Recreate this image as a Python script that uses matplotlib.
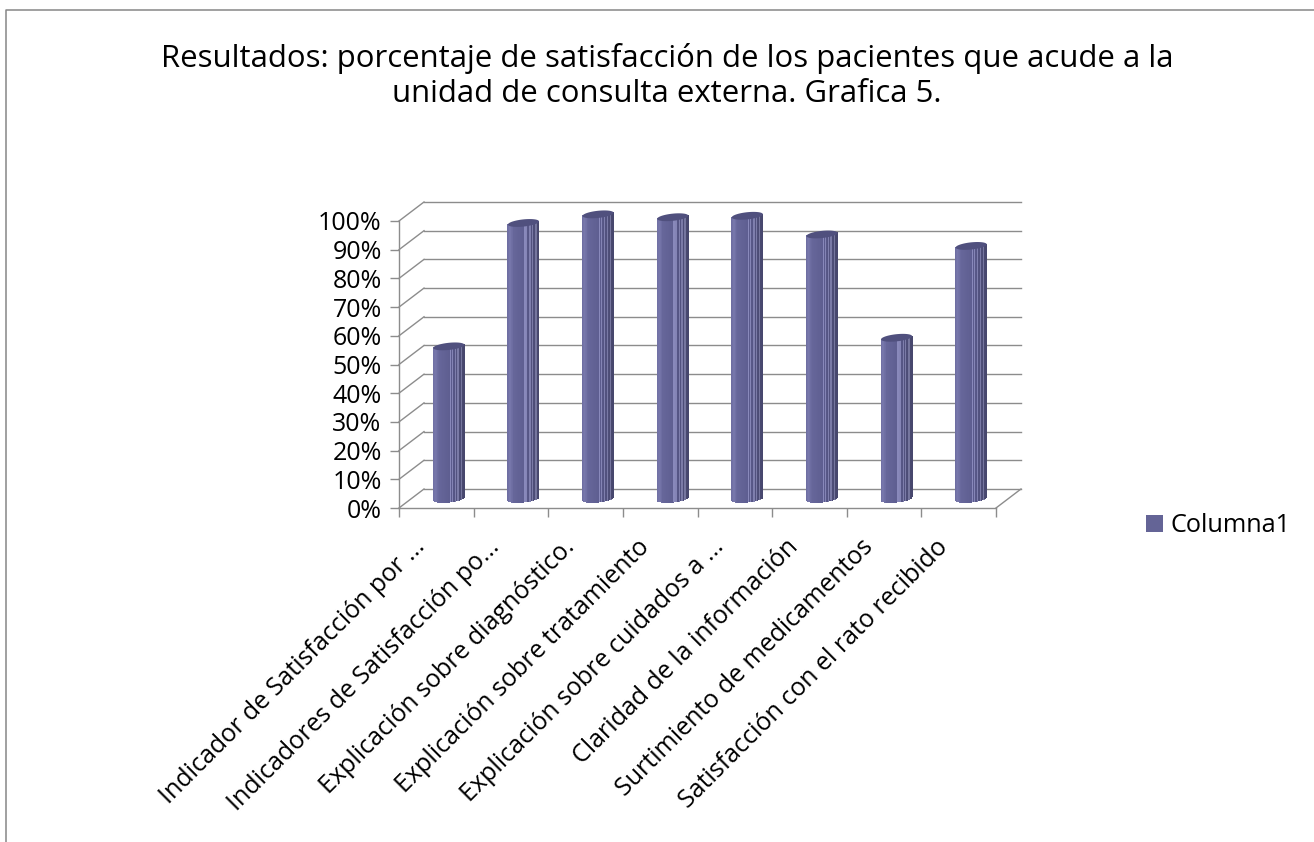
import numpy as np
import matplotlib
matplotlib.use("Agg")
import matplotlib.pyplot as plt
from matplotlib.lines import Line2D
from matplotlib.patches import Patch, Polygon
from matplotlib.transforms import ScaledTranslation

plt.rcParams["font.family"] = ["Open Sans", "DejaVu Sans"]

title = ("Resultados: porcentaje de satisfacción de los pacientes que acude a la\n"
         "unidad de consulta externa. Grafica 5.")
categories = [
    "Indicador de Satisfacción por ...",
    "Indicadores de Satisfacción po...",
    "Explicación sobre diagnóstico.",
    "Explicación sobre tratamiento",
    "Explicación sobre cuidados a ...",
    "Claridad de la información",
    "Surtimiento de medicamentos",
    "Satisfacción con el rato recibido",
]
values = [53, 96, 99, 98, 98.5, 92, 56, 88]
y_ticks = list(range(0, 101, 10))
series_name = "Columna1"

W, H = 1314, 842
BODY = "#646496"
GRID = "#8c8c8c"
DEPTH_X = 25 / 74.6   # depth of the floor, in category units
DEPTH_Y = 19 / 2.867  # same, in percent units
RAD_X, RAD_Y, TILT = 0.208, 1.25, 0.55


def strip_color(u):
    # shading across the cylinder, u runs from 0 (left) to 1 (right)
    stops = [0, 0.08, 0.2, 0.55, 0.75, 1]
    r = np.interp(u, stops, [0x6c, 0x78, 0x66, 0x5e, 0x52, 0x46])
    g = np.interp(u, stops, [0x6c, 0x78, 0x66, 0x5e, 0x52, 0x47])
    b = np.interp(u, stops, [0xa0, 0xac, 0x9a, 0x90, 0x80, 0x6c])
    col = np.array([r, g, b]) / 255
    # pale vertical facets
    for f in (0.56, 0.62, 0.72, 0.82, 0.92):
        if abs(u - f) < 0.02:
            col = np.minimum(col + 0.17, 1)
    return tuple(col)


def cylinder(ax, cx, base, top, n=48):
    edges = np.linspace(-1, 1, n + 1)
    for a, b in zip(edges[:-1], edges[1:]):
        xs = np.array([a, b])
        low = base - RAD_Y * np.sqrt(1 - xs**2) + TILT * xs
        upp = top + TILT * xs
        pts = [(cx + a * RAD_X, low[0]), (cx + b * RAD_X, low[1]),
               (cx + b * RAD_X, upp[1]), (cx + a * RAD_X, upp[0])]
        ax.add_patch(Polygon(pts, fc=strip_color((a + b + 2) / 4), ec="none",
                             clip_on=False, zorder=3, antialiased=False))
    t = np.linspace(0, 2 * np.pi, 80)
    lid = np.c_[cx + RAD_X * np.cos(t),
                top + RAD_Y * np.sin(t) + TILT * np.cos(t)]
    ax.add_patch(Polygon(lid, fc="#50507e", ec="none", clip_on=False, zorder=4))


fig = plt.figure(figsize=(W / 100, H / 100), dpi=100, facecolor="white")
ax = fig.add_axes([399 / W, 1 - 508 / H, 597 / W, 287 / H])
ax.set_xlim(0, len(categories))
ax.set_ylim(0, 100)
ax.patch.set_visible(False)

# walls: back gridlines, left wall diagonals and the floor edge
for v in y_ticks:
    ax.plot([DEPTH_X, len(categories) + DEPTH_X], [v + DEPTH_Y, v + DEPTH_Y],
            color=GRID, lw=1, clip_on=False, zorder=1)
    ax.plot([0, DEPTH_X], [v, v + DEPTH_Y], color=GRID, lw=1, clip_on=False, zorder=1)
ax.plot([len(categories), len(categories) + DEPTH_X], [0, DEPTH_Y],
        color=GRID, lw=1, clip_on=False, zorder=1)

for i, v in enumerate(values):
    cylinder(ax, i + 0.5 + DEPTH_X / 2, DEPTH_Y / 2, DEPTH_Y / 2 + v)

for side in ("top", "right"):
    ax.spines[side].set_visible(False)
for side in ("left", "bottom"):
    ax.spines[side].set_color(GRID)
    ax.spines[side].set_linewidth(1)

ax.set_yticks(y_ticks, [f"{v}%" for v in y_ticks])
ax.set_xticks(range(len(categories) + 1), [""] * (len(categories) + 1))
ax.tick_params(axis="both", which="major", color=GRID, length=6.5, width=1)
ax.tick_params(axis="y", labelsize=18, pad=6, labelcolor="black")
ax.set_xticks(np.arange(len(categories)) + 0.5, categories, minor=True,
              rotation=45, ha="right", rotation_mode="anchor", fontsize=18)
ax.tick_params(axis="x", which="minor", length=0, pad=19)
# pull the slanted labels left so their ends sit under the ticks
nudge = ScaledTranslation(-17 / 72, 0, fig.dpi_scale_trans)
for lab in ax.get_xticklabels(minor=True):
    lab.set_transform(lab.get_transform() + nudge)

fig.text(667 / W, 1 - 76 / H, title, ha="center", va="center", fontsize=22.4,
         linespacing=1.22, color="black")

fig.legend(handles=[Patch(fc=BODY, ec="none", label=series_name)], frameon=False,
           loc="center left", bbox_to_anchor=(1146 / W, 1 - 526 / H), fontsize=18.2,
           borderpad=0, borderaxespad=0,
           handlelength=0.68, handleheight=0.68, handletextpad=0.28)

# outer frame, open at the right and bottom edges
fig.add_artist(Line2D([6 / W, 6 / W, 1], [0, 1 - 10 / H, 1 - 10 / H],
                      color="#868686", lw=1.1))

fig.savefig("out.png", dpi=100)
